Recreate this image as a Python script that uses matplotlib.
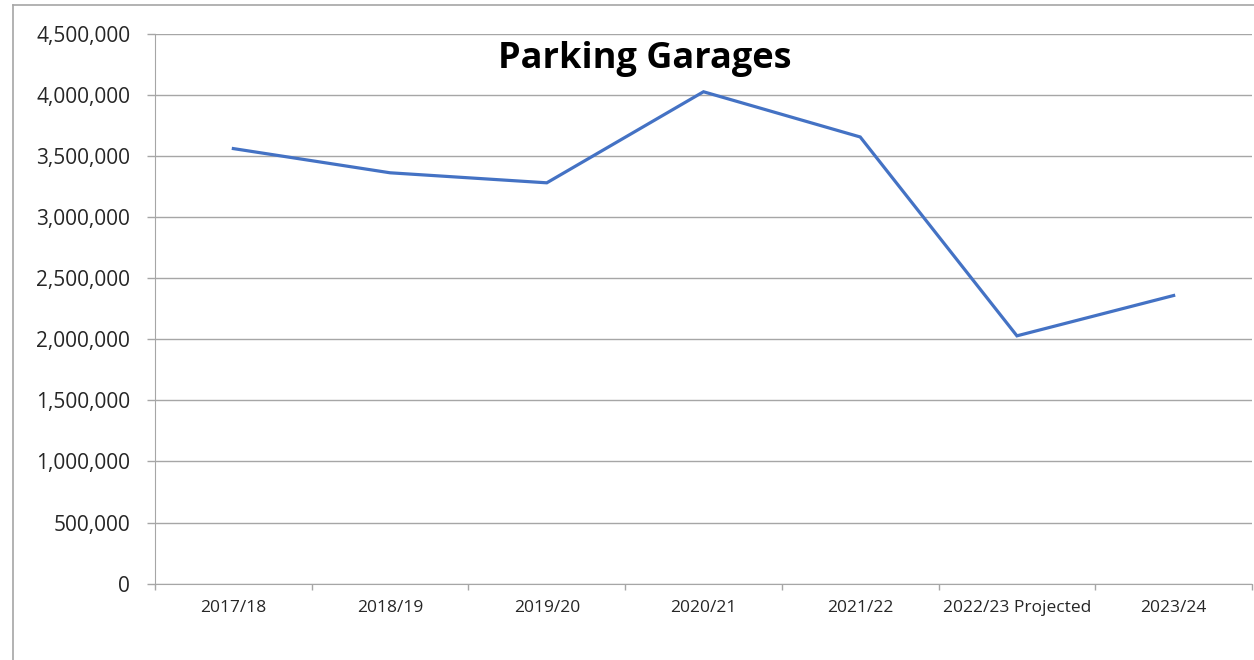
import matplotlib
matplotlib.use("Agg")
import matplotlib.pyplot as plt
from matplotlib.ticker import FuncFormatter, FixedLocator
from matplotlib.lines import Line2D

categories = ["2017/18", "2018/19", "2019/20", "2020/21", "2021/22", "2022/23 Projected", "2023/24"]
values = [3560000, 3362000, 3280000, 4025000, 3655000, 2028000, 2358000]
title = "Parking Garages"

W, H = 1254, 660
fig = plt.figure(figsize=(W / 100, H / 100), dpi=100)
fig.patch.set_facecolor("white")

# outer chart border (left and top visible)
fig.add_artist(Line2D([13 / W, 13 / W], [0, 1 - 5 / H], transform=fig.transFigure, color="#A6A6A6", lw=1.2))
fig.add_artist(Line2D([13 / W, 1], [1 - 5 / H, 1 - 5 / H], transform=fig.transFigure, color="#A6A6A6", lw=1.2))

left, right, top, bottom = 155, 1252, 33.7, 583.7
ax = fig.add_axes([left / W, 1 - bottom / H, (right - left) / W, (bottom - top) / H])

x = list(range(len(categories)))
ax.plot(x, values, color="#4472C4", lw=2.3, solid_joinstyle="miter")

ax.set_xlim(-0.5, len(categories) - 0.5)
ax.set_ylim(0, 4500000)
ax.set_yticks(range(0, 4500001, 500000))
ax.yaxis.set_major_formatter(FuncFormatter(lambda v, p: f"{int(v):,}"))
ax.grid(axis="y", color="#A6A6A6", lw=1.0)
ax.set_axisbelow(True)

ax.set_xticks(x)
ax.set_xticklabels(categories, fontsize=12.5, family=["Open Sans", "DejaVu Sans"], color="#262626")
ax.xaxis.set_minor_locator(FixedLocator([i - 0.5 for i in range(len(categories) + 1)]))
ax.tick_params(axis="x", which="major", length=0, pad=12)
ax.tick_params(axis="x", which="minor", length=4.5, color="#A6A6A6", width=1)
ax.tick_params(axis="y", length=5.8, color="#A6A6A6", width=1, pad=12, labelsize=15, labelcolor="#262626")
for lab in ax.get_yticklabels():
    lab.set_family(["Open Sans", "DejaVu Sans"])

for s in ["top", "right"]:
    ax.spines[s].set_visible(False)
ax.spines["left"].set_color("#A6A6A6")
ax.spines["bottom"].set_color("#A6A6A6")

fig.text(645 / W, 1 - 59 / H, title, ha="center", va="center", fontsize=26,
         fontweight="bold", family=["Open Sans", "DejaVu Sans"], color="black")

fig.savefig("out.png", dpi=100, facecolor="white")
